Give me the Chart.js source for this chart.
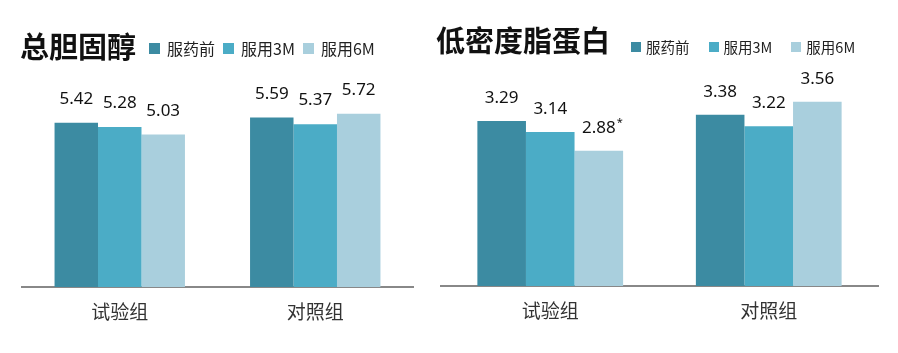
<!DOCTYPE html>
<html>
<head>
<meta charset="utf-8">
<script src="https://cdn.jsdelivr.net/npm/chart.js@4"></script>
<style>
  body { margin: 0; background: #fff; }
  #page { position: relative; width: 898px; height: 353px; overflow: hidden; }
  canvas { position: absolute; top: 0; }
  .title { position: absolute; font-family: "Noto Sans CJK SC"; font-weight: 700; font-size: 29px; line-height: 1; color: #111; white-space: nowrap; }
  .legend { position: absolute; display: flex; align-items: center; font-family: "Noto Sans CJK SC"; color: #222; white-space: nowrap; line-height: 1; }
  .legend .item { display: flex; align-items: center; }
  .legend .box { display: inline-block; }
</style>
</head>
<body>
<div id="page">
  <canvas id="tcChart" width="440" height="353" style="left:0"></canvas>
  <canvas id="ldlChart" width="458" height="353" style="left:440px"></canvas>
  <div class="title" id="tcTitle" style="left:20px; top:31px"></div>
  <div class="title" id="ldlTitle" style="left:436px; top:25px"></div>
  <div class="legend" id="tcLegend" style="left:149px; top:40px; font-size:16px"></div>
  <div class="legend" id="ldlLegend" style="left:631px; top:40px; font-size:14.5px"></div>
</div>
<script>
const categories = ['试验组', '对照组'];
const seriesNames = ['服药前', '服用3M', '服用6M'];
const seriesColors = ['#3c8ba2', '#4bacc6', '#a9cfdd'];

// 总胆固醇
const tcTitle = '总胆固醇';
const tcBefore = [5.42, 5.59];
const tc3M = [5.28, 5.37];
const tc6M = [5.03, 5.72];

// 低密度脂蛋白
const ldlTitle = '低密度脂蛋白';
const ldlBefore = [3.29, 3.38];
const ldl3M = [3.14, 3.22];
const ldl6M = [2.88, 3.56];
const ldlMarks = [['', ''], ['', ''], ['*', '']];

const valueLabels = {
    id: 'valueLabels',
    afterDatasetsDraw(chart, args, opts) {
        const ctx = chart.ctx;
        ctx.save();
        ctx.font = '17px "Noto Sans"';
        ctx.fillStyle = '#111';
        ctx.textAlign = 'center';
        ctx.textBaseline = 'alphabetic';
        chart.data.datasets.forEach((ds, i) => {
            chart.getDatasetMeta(i).data.forEach((bar, j) => {
                const text = ds.data[j].toFixed(2);
                const y = bar.y - opts.offset;
                ctx.fillText(text, bar.x, y);
                const mark = opts.marks ? opts.marks[i][j] : '';
                if (mark) {
                    const w = ctx.measureText(text).width;
                    ctx.save();
                    ctx.font = '11px "Noto Sans"';
                    ctx.textAlign = 'left';
                    ctx.fillText(mark, bar.x + w / 2 + 1, y - 7);
                    ctx.restore();
                }
            });
        });
        ctx.restore();
    }
};

function buildLegend(id, gap, boxSize, textGap) {
    const el = document.getElementById(id);
    seriesNames.forEach((name, i) => {
        const item = document.createElement('span');
        item.className = 'item';
        if (i > 0) item.style.marginLeft = gap + 'px';
        const box = document.createElement('span');
        box.className = 'box';
        box.style.width = boxSize + 'px';
        box.style.height = boxSize + 'px';
        box.style.background = seriesColors[i];
        box.style.marginRight = textGap + 'px';
        item.appendChild(box);
        item.appendChild(document.createTextNode(name));
        el.appendChild(item);
    });
}

function createChart(canvasId, series, yMin, yMax, padding, axisHeight, labelOpts) {
    const ctx = document.getElementById(canvasId).getContext('2d');
    return new Chart(ctx, {
        type: 'bar',
        data: {
            labels: categories,
            datasets: series.map((data, i) => ({
                label: seriesNames[i],
                data: data,
                backgroundColor: seriesColors[i],
                borderWidth: 0,
                categoryPercentage: 0.667,
                barPercentage: 1
            }))
        },
        options: {
            responsive: false,
            animation: false,
            layout: { padding: padding },
            plugins: {
                legend: { display: false },
                tooltip: { enabled: false },
                valueLabels: labelOpts
            },
            scales: {
                x: {
                    grid: { display: false, drawTicks: false },
                    border: { display: true, color: '#888888', width: 2 },
                    ticks: {
                        color: '#333',
                        padding: 13,
                        font: { family: 'Noto Sans CJK SC', size: 19 }
                    },
                    afterFit: (scale) => { scale.height = axisHeight; }
                },
                y: {
                    display: false,
                    min: yMin,
                    max: yMax
                }
            }
        },
        plugins: [valueLabels]
    });
}

document.getElementById('tcTitle').textContent = tcTitle;
document.getElementById('ldlTitle').textContent = ldlTitle;
buildLegend('tcLegend', 8, 11, 7);
buildLegend('ldlLegend', 19, 10, 5);

createChart('tcChart', [tcBefore, tc3M, tc6M], 0, 6.5,
    { left: 22, right: 27, top: 90, bottom: 0 }, 66, { offset: 19 });
createChart('ldlChart', [ldlBefore, ldl3M, ldl6M], 1, 3.75,
    { left: 1, right: 20, top: 88, bottom: 0 }, 67, { offset: 18, marks: ldlMarks });
</script>
</body>
</html>
